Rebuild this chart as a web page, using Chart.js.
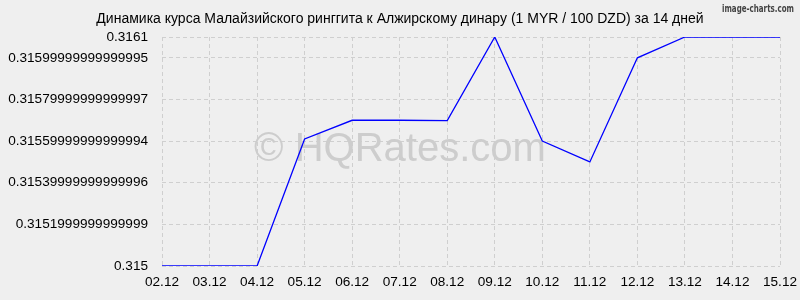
<!DOCTYPE html>
<html>
<head>
<meta charset="utf-8">
<script src="https://cdn.jsdelivr.net/npm/chart.js@4/dist/chart.umd.min.js"></script>
<style>
html,body{margin:0;padding:0;background:#efefef;}
#wrap{width:800px;height:300px;}
</style>
</head>
<body>
<div id="wrap"><canvas id="c" width="800" height="300"></canvas></div>
<script>
const categories = ["02.12","03.12","04.12","05.12","06.12","07.12","08.12","09.12","10.12","11.12","12.12","13.12","14.12","15.12"];
const rates = [0.3150,0.3150,0.3150,0.31561,0.3157,0.3157,0.315698,0.3161,0.3156,0.3155,0.3160,0.3161,0.3161,0.3161];
const tickValues = [0.315,0.3152,0.3154,0.3156,0.3158,0.316,0.3161];
const tickLabels = ["0.315","0.3151999999999999","0.31539999999999996","0.31559999999999994","0.31579999999999997","0.31599999999999995","0.3161"];
const titleText = "Динамика курса Малайзийского ринггита к Алжирскому динару (1 MYR / 100 DZD) за 14 дней";
const watermark = "© HQRates.com";
const credit = "image-charts.com";

const FONT = "'Liberation Sans', Arial, sans-serif";

const decor = {
  id: 'decor',
  beforeDraw(chart) {
    const ctx = chart.ctx;
    ctx.save();
    ctx.fillStyle = '#efefef';
    ctx.fillRect(0, 0, chart.width, chart.height);
    ctx.fillStyle = '#000';
    ctx.font = '14px ' + FONT;
    ctx.textAlign = 'center';
    ctx.textBaseline = 'alphabetic';
    ctx.fillText(titleText, 400, 23);
    // credit
    ctx.font = 'bold 11px "DejaVu Sans Condensed", "DejaVu Sans", sans-serif';
    const w = ctx.measureText(credit).width;
    ctx.translate(722, 12);
    ctx.scale(72 / w, 1);
    ctx.fillStyle = '#444';
    ctx.textAlign = 'left';
    ctx.fillText(credit, 0, 0);
    ctx.restore();
  },
  beforeDatasetsDraw(chart) {
    const ctx = chart.ctx;
    ctx.save();
    ctx.font = '40px ' + FONT;
    ctx.fillStyle = '#cdcdcd';
    ctx.textAlign = 'center';
    ctx.textBaseline = 'alphabetic';
    ctx.fillText(watermark, 400, 161);
    ctx.restore();
  }
};

new Chart(document.getElementById('c'), {
  type: 'line',
  data: {
    labels: categories,
    datasets: [{
      data: rates,
      borderColor: '#0000ff',
      borderWidth: 1.3,
      pointRadius: 0,
      tension: 0,
      fill: false
    }]
  },
  options: {
    responsive: false,
    animation: false,
    devicePixelRatio: 1,
    layout: { padding: { top: 37, right: 20, left: 0, bottom: 0 } },
    plugins: { legend: { display: false }, title: { display: false }, tooltip: { enabled: false } },
    scales: {
      x: {
        type: 'category',
        offset: false,
        grid: { color: '#cfcfcf', drawTicks: false },
        border: { display: false, dash: [4,3] },
        ticks: { color: '#000', font: { size: 13.6, family: FONT }, padding: 8, maxRotation: 0, autoSkip: false },
        afterFit(s) { s.height = 34; s.paddingLeft = 0; s.paddingRight = 0; }
      },
      y: {
        type: 'linear',
        min: 0.315,
        max: 0.3161,
        afterBuildTicks(s) { s.ticks = tickValues.map(v => ({ value: v })); },
        grid: { color: '#cfcfcf', drawTicks: false },
        border: { display: false, dash: [4,3] },
        ticks: {
          color: '#000',
          font: { size: 13.6, family: FONT },
          padding: 14,
          callback(v) { const i = tickValues.findIndex(t => Math.abs(t - v) < 1e-9); return i >= 0 ? tickLabels[i] : ''; }
        },
        afterFit(s) { s.width = 162; s.paddingTop = 0; s.paddingBottom = 0; }
      }
    }
  },
  plugins: [decor]
});
</script>
</body>
</html>
